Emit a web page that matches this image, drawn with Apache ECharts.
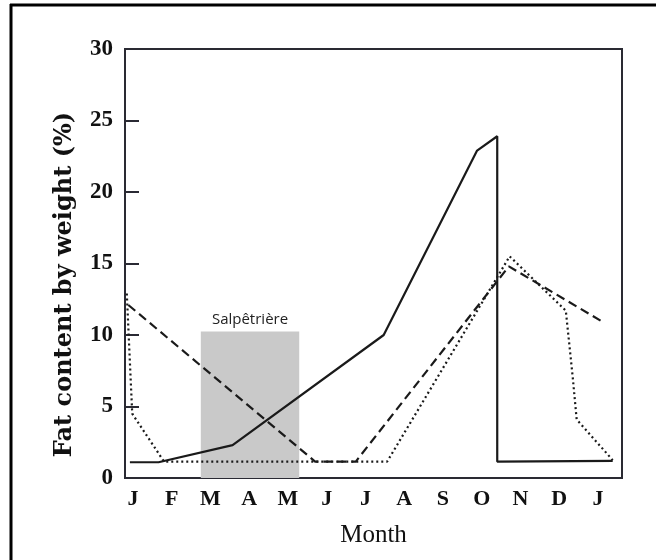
<!DOCTYPE html>
<html>
<head>
<meta charset="utf-8">
<script src="https://cdn.jsdelivr.net/npm/echarts@6/dist/echarts.min.js"></script>
<style>html,body{margin:0;padding:0;background:#fff;}#c{width:656px;height:560px;}</style>
</head>
<body>
<div id="c"></div>
<script>
// Month tick labels (positions 0..12)
const monthLabels = ['J','F','M','A','M','J','J','A','S','O','N','D','J'];
const monthTicks = [0,1,2,3,4,5,6,7,8,9,10,11,12];

// Solid series (x in months from first January, y = fat %)
const solidX = [-0.08, 0.66, 2.57, 6.47, 8.88, 9.40, 9.40, 12.38];
const solidY = [1.1, 1.1, 2.3, 10.0, 22.9, 23.9, 1.15, 1.2];

// Dashed series
const dashedX = [-0.12, 4.70, 5.75, 9.70, 12.10];
const dashedY = [12.1, 1.15, 1.15, 14.8, 10.95];

// Dotted series
const dottedX = [-0.16, -0.02, 0.80, 6.56, 9.72, 11.17, 11.35, 11.45, 12.38];
const dottedY = [12.9, 4.5, 1.15, 1.15, 15.5, 11.7, 7.0, 4.1, 1.25];

// Shaded period
const shadeLabel = 'Salpêtrière';
const shadeStart = 1.75;
const shadeEnd = 4.29;
const shadeTop = 10.25;

function pairs(xs, ys) { return xs.map((x, i) => [x, ys[i]]); }

const chart = echarts.init(document.getElementById('c'), null, {renderer: 'canvas'});
const ink = '#1a1a1a';
const frame = '#2a2a33';
chart.setOption({
  animation: false,
  backgroundColor: '#ffffff',
  grid: {left: 125, right: 34, top: 49, bottom: 82, show: true, borderColor: frame, borderWidth: 2, backgroundColor: 'transparent'},
  xAxis: {
    type: 'value', min: -0.2065, max: 12.62,
    name: 'Month', nameLocation: 'middle', nameGap: 45,
    nameTextStyle: {fontFamily: 'Liberation Serif', fontSize: 25, color: '#111'},
    axisLine: {show: true, onZero: false, lineStyle: {color: frame, width: 2}},
    axisTick: {show: false},
    splitLine: {show: false},
    axisLabel: {
      customValues: monthTicks,
      formatter: v => monthLabels[Math.round(v)],
      fontFamily: 'Liberation Serif', fontWeight: 'bold', fontSize: 22, color: '#111', margin: 10
    }
  },
  yAxis: {
    type: 'value', min: 0, max: 30, interval: 5,
    name: 'Fat content by weight (%)', nameLocation: 'middle', nameGap: 48, nameRotate: 90,
    nameTextStyle: {fontFamily: 'DejaVu Serif', fontWeight: 'bold', fontSize: 24, color: '#111', padding: [0, 42, 0, 0]},
    axisLine: {show: true, onZero: false, lineStyle: {color: frame, width: 2}},
    axisTick: {show: true, inside: true, length: 14, lineStyle: {color: frame, width: 2}},
    splitLine: {show: false},
    axisLabel: {fontFamily: 'Liberation Serif', fontWeight: 'bold', fontSize: 23, color: '#111', margin: 12}
  },
  series: [
    {
      type: 'line', data: [], z: 1,
      markArea: {
        silent: true,
        itemStyle: {color: '#c9c9c9', opacity: 1},
        label: {show: true, position: 'top', distance: 4, fontFamily: 'Open Sans', fontSize: 15, color: '#222'},
        data: [[{name: shadeLabel, xAxis: shadeStart, yAxis: 0}, {xAxis: shadeEnd, yAxis: shadeTop}]]
      }
    },
    {type: 'line', data: pairs(solidX, solidY), showSymbol: false, z: 5,
     lineStyle: {color: ink, width: 2.2, type: 'solid'}},
    {type: 'line', data: pairs(dashedX, dashedY), showSymbol: false, z: 4,
     lineStyle: {color: ink, width: 2.2, type: [9, 5]}},
    {type: 'line', data: pairs(dottedX, dottedY), showSymbol: false, z: 3,
     lineStyle: {color: ink, width: 2.2, type: [2, 3]}}
  ],
  graphic: [
    {type: 'line', shape: {x1: 11, y1: 4, x2: 11, y2: 560}, style: {stroke: '#000', lineWidth: 3}},
    {type: 'line', shape: {x1: 10, y1: 5, x2: 656, y2: 5}, style: {stroke: '#000', lineWidth: 3}}
  ]
});
</script>
</body>
</html>
